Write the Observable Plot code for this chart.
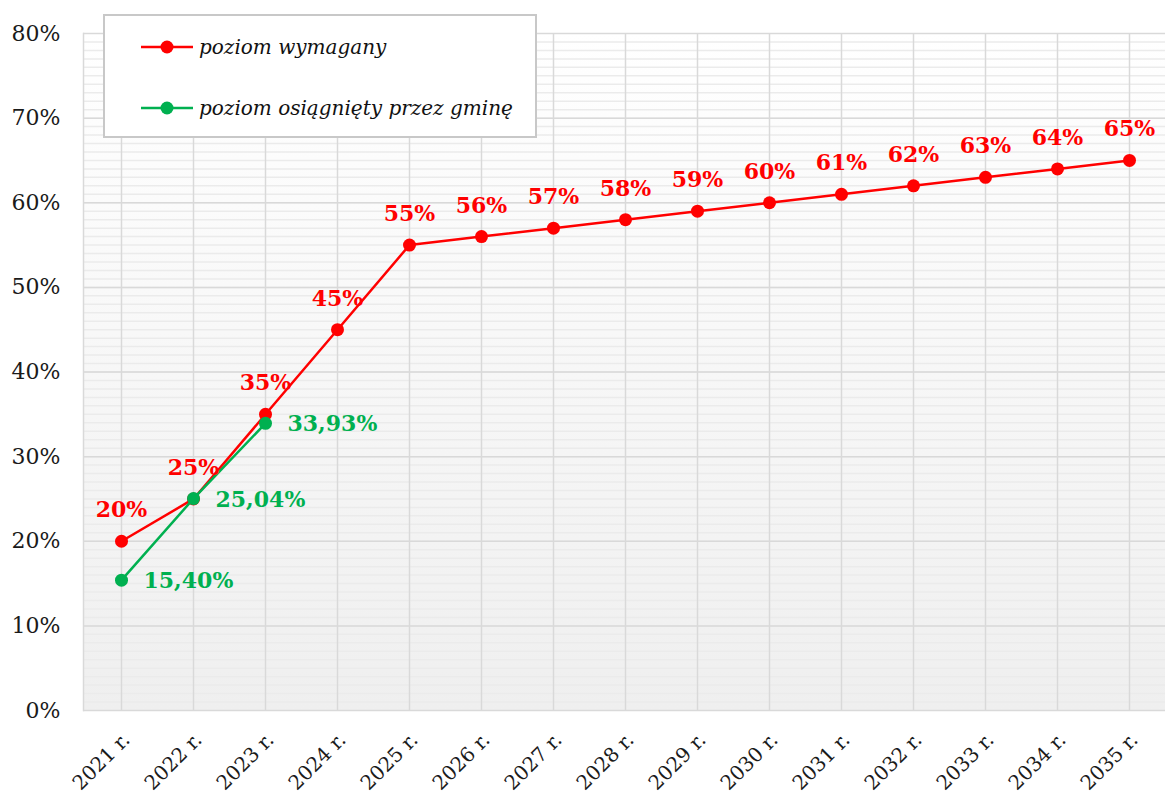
<!DOCTYPE html>
<html>
<head>
<meta charset="utf-8">
<script src="https://cdn.jsdelivr.net/npm/d3@7"></script>
<script src="https://cdn.jsdelivr.net/npm/@observablehq/plot@0.6"></script>
<style>
  html, body { margin: 0; padding: 0; background: #fff; }
  #wrap { position: relative; width: 1165px; height: 794px; overflow: hidden; }
  #legend { position: absolute; left: 103px; top: 14px; width: 430px; height: 120px;
    background: #fff; border: 2px solid #c8c8c8; font-family: "DejaVu Serif", serif; font-style: italic; font-size: 20px; color: #111; }
  .item { position: absolute; left: 35px; display: flex; align-items: center; }
  .item svg { margin-right: 5px; }
</style>
</head>
<body>
<div id="wrap"></div>
<script>
const years = ["2021 r.","2022 r.","2023 r.","2024 r.","2025 r.","2026 r.","2027 r.","2028 r.","2029 r.","2030 r.","2031 r.","2032 r.","2033 r.","2034 r.","2035 r."];
const required = [20,25,35,45,55,56,57,58,59,60,61,62,63,64,65];
const achievedYears = ["2021 r.","2022 r.","2023 r."];
const achieved = [15.40,25.04,33.93];
const yTicks = [0,10,20,30,40,50,60,70,80];
const seriesNames = ["poziom wymagany","poziom osiągnięty przez gminę"];
const seriesColors = ["#ff0000","#00b050"];

const reqData = years.map((y,i)=>({year:y, value:required[i]}));
const achData = achievedYears.map((y,i)=>({year:y, value:achieved[i]}));
const fmtReq = d => `${d}%`;
const fmtAch = d => d.toFixed(2).replace(".", ",") + "%";

const chart = Plot.plot({
  width: 1165,
  height: 794,
  marginLeft: 83,
  marginRight: -2,
  marginTop: 33,
  marginBottom: 84,
  style: {fontFamily: "DejaVu Serif, serif", fontSize: "20px", color: "#1a1a1a", background: "transparent"},
  x: {type: "point", domain: years, padding: 0.5},
  y: {domain: [0, 80]},
  marks: [
    Plot.frame({fill: "url(#bgGrad)", stroke: null}),
    Plot.ruleY(d3.range(1, 80, 1), {stroke: "#ebebeb", strokeWidth: 1.5}),
    Plot.ruleY(yTicks, {stroke: "#d9d9d9", strokeWidth: 1.5}),
    Plot.ruleX(years, {stroke: "#d9d9d9", strokeWidth: 1.5}),
    Plot.frame({anchor: "left", stroke: "#d9d9d9", strokeWidth: 1.5}),
    Plot.axisY({ticks: yTicks, tickFormat: d => d + "%", tickSize: 0, tickPadding: 23, fontSize: 22, label: null}),
    Plot.axisX({tickRotate: -45, tickSize: 0, tickPadding: 26, dx: 5, fontSize: 20, label: null}),
    Plot.line(reqData, {x: "year", y: "value", stroke: seriesColors[0], strokeWidth: 2.5}),
    Plot.dot(reqData, {x: "year", y: "value", fill: seriesColors[0], r: 6.5}),
    Plot.line(achData, {x: "year", y: "value", stroke: seriesColors[1], strokeWidth: 2.5}),
    Plot.dot(achData, {x: "year", y: "value", fill: seriesColors[1], r: 6.5}),
    Plot.text(reqData, {x: "year", y: "value", text: d => fmtReq(d.value), dy: -31, fill: seriesColors[0], fontWeight: "bold", fontSize: 22}),
    Plot.text(achData, {x: "year", y: "value", text: d => fmtAch(d.value), dx: 22, dy: 1, textAnchor: "start", fill: seriesColors[1], fontWeight: "bold", fontSize: 22})
  ]
});

const svg = d3.select(chart);
const defs = svg.insert("defs", ":first-child");
const g = defs.append("linearGradient").attr("id", "bgGrad").attr("x1", 0).attr("y1", 0).attr("x2", 0).attr("y2", 1);
g.append("stop").attr("offset", "0%").attr("stop-color", "#ffffff");
g.append("stop").attr("offset", "100%").attr("stop-color", "#efefef");

const wrap = document.getElementById("wrap");
wrap.appendChild(chart);

// legend overlay
const legend = document.createElement("div");
legend.id = "legend";
const tops = [19, 80];
seriesNames.forEach((name, i) => {
  const item = document.createElement("div");
  item.className = "item";
  item.style.top = tops[i] + "px";
  item.innerHTML = `<svg width="54" height="22"><line x1="1" y1="11" x2="53" y2="11" stroke="${seriesColors[i]}" stroke-width="2.5"/><circle cx="27" cy="11" r="6.5" fill="${seriesColors[i]}"/></svg><span>${name}</span>`;
  legend.appendChild(item);
});
wrap.appendChild(legend);
</script>
</body>
</html>
